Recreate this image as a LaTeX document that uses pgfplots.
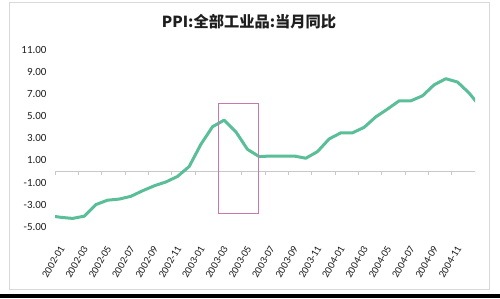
\documentclass[border=0pt]{standalone}
\usepackage{pgfplots}
\pgfplotsset{compat=1.18}
\usepackage{fontspec}
\setmainfont{Carlito}
\newfontfamily\cjk{Noto Sans CJK SC}
\definecolor{linec}{RGB}{90,190,152}
\definecolor{framec}{RGB}{217,217,217}
\definecolor{axisc}{RGB}{200,200,200}
\definecolor{rectc}{RGB}{200,120,170}
\definecolor{txtc}{RGB}{30,30,30}
\begin{document}
\begin{tikzpicture}[x=1bp,y=1bp]
\path[use as bounding box] (0,0) rectangle (500,298);
\fill[white] (0,0) rectangle (500,298);
\draw[framec, line width=0.8bp] (9,8.7) rectangle (489.3,296);
\fill[black] (0,0) rectangle (500,3.6);
\node[font=\cjk\bfseries\fontsize{15.3}{18}\selectfont, text=txtc] at (249,276) {PPI:全部工业品:当月同比};
\begin{axis}[
  at={(55bp,71.3bp)}, anchor=south west,
  scale only axis, width=420bp, height=176.7bp,
  xmin=-0.5, xmax=35.5, ymin=-5, ymax=11,
  axis line style={draw=none},
  major tick style={draw=none},
  ytick={-5,-3,...,11},
  yticklabel style={font=\fontsize{11}{13}\selectfont, text=txtc, xshift=-5bp,
    /pgf/number format/.cd, fixed, fixed zerofill, precision=2, assume math mode=true},
  xtick={0,2,...,34},
  xticklabels={2002-01,2002-03,2002-05,2002-07,2002-09,2002-11,2003-01,2003-03,2003-05,2003-07,2003-09,2003-11,2004-01,2004-03,2004-05,2004-07,2004-09,2004-11},
  xticklabel style={font=\fontsize{10.5}{12}\selectfont, text=txtc, xshift=3bp, yshift=-17bp, rotate=60, anchor=east},
]
\draw[axisc, line width=0.8bp] (axis cs:-0.5,0) -- (axis cs:35.5,0);
\pgfplotsinvokeforeach{0,...,18}{\draw[axisc, line width=0.8bp] (axis cs:{-0.5+2*#1},0) -- ([yshift=-3.5bp]axis cs:{-0.5+2*#1},0);}
\addplot[linec, line width=3bp, line join=round] coordinates {
(-1,-4.0) (0,-4.15) (1,-4.25) (2,-4.05) (3,-3.0) (4,-2.6) (5,-2.5) (6,-2.25)
(7,-1.75) (8,-1.3) (9,-0.95) (10,-0.45) (11,0.45) (12,2.45) (13,4.05) (14,4.65)
(15,3.6) (16,2.0) (17,1.35) (18,1.4) (19,1.4) (20,1.4) (21,1.2) (22,1.8)
(23,2.95) (24,3.5) (25,3.5) (26,4.0) (27,4.95) (28,5.65) (29,6.4) (30,6.4)
(31,6.85) (32,7.85) (33,8.4) (34,8.1) (35,7.1) (36,5.8)
};
\draw[rectc, line width=0.8bp] (axis cs:13.5,6.18) rectangle (axis cs:16.95,-3.79);
\end{axis}
\end{tikzpicture}
\end{document}
